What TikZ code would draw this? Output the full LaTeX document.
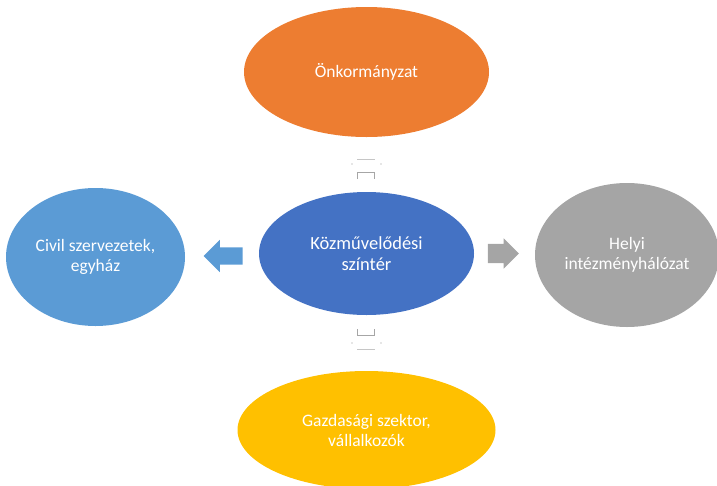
\documentclass[tikz,border=0pt]{standalone}
\usepackage{fontspec}
\setmainfont{Carlito}
\usepackage{tikz}
\usetikzlibrary{shapes.geometric, shapes.arrows}
\definecolor{kozkek}{HTML}{4472C4}
\definecolor{narancs}{HTML}{ED7D31}
\definecolor{vilkek}{HTML}{5B9BD5}
\definecolor{szurke}{HTML}{A5A5A5}
\definecolor{sarga}{HTML}{FFC000}
\tikzstyle{szereplo} = [ellipse, inner sep=0pt, text=white, align=center, font=\fontsize{17.5}{20}\selectfont]
\tikzstyle{kozep} = [szereplo, minimum width=215pt, minimum height=123pt, fill=kozkek, font=\fontsize{18.5}{21}\selectfont]
\tikzstyle{nyil} = [single arrow, inner xsep=0pt, single arrow head indent=0pt]
\tikzstyle{halvany} = [line width=0.8pt, draw=gray!45]

\begin{document}
\begin{tikzpicture}[x=1pt, y=-1pt]
			\useasboundingbox (0,0) rectangle (717,485);
			\node (kozp) [kozep] at (366.5,253.5) {Közművelődési\\színtér};
			\node (onk) [szereplo, fill=narancs, minimum width=245pt, minimum height=130pt, above of=kozp, node distance=181.5pt] {Önkormányzat};
			\node (civil) [szereplo, fill=vilkek, minimum width=179pt, minimum height=138pt, left of=kozp, node distance=271pt, yshift=-3.5pt] {Civil szervezetek,\\egyház};
			\node (helyi) [szereplo, fill=szurke, minimum width=184pt, minimum height=144pt, right of=kozp, node distance=260.5pt, yshift=-1.5pt] {Helyi\\intézményhálózat};
			\node (gazd) [szereplo, fill=sarga, minimum width=258pt, minimum height=118pt, below of=kozp, node distance=176.5pt] {Gazdasági szektor,\\vállalkozók};

			\node (balnyil) [nyil, fill=vilkek, shape border rotate=180, minimum height=39pt, inner ysep=8.5pt, single arrow head extend=7.5pt, left of=kozp, node distance=139pt, yshift=-2.5pt] {};
			\node (jobbnyil) [nyil, fill=szurke, minimum height=31pt, inner ysep=9.5pt, single arrow head extend=5.5pt, right of=kozp, node distance=132pt] {};

			% halvany nyilmaradvanyok fent es lent
			\draw [halvany] (357,159) -- (375,159);
			\draw [halvany, draw=gray!70] (357,179) -- (357,172) -- (374,172) -- (374,179);
			\fill [gray!40] (352,164) circle (0.8) (381,164) circle (0.8);
			\draw [halvany, draw=gray!70] (357,329) -- (357,335) -- (374,335) -- (374,329);
			\draw [halvany] (357,349) -- (375,349);
			\fill [gray!40] (352,343) circle (0.8) (381,343) circle (0.8);
		\end{tikzpicture}
\end{document}
